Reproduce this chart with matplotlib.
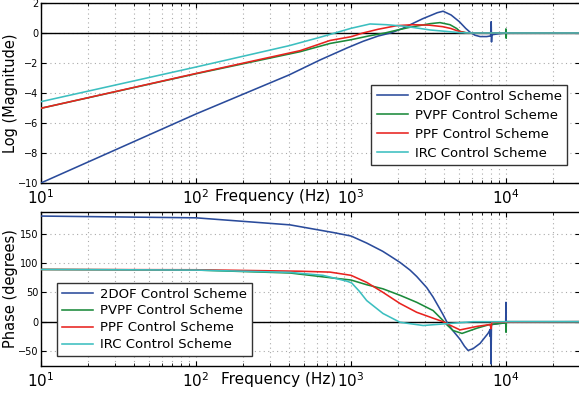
import matplotlib
matplotlib.use('Agg')
import matplotlib.pyplot as plt
from matplotlib.ticker import LogLocator, NullFormatter
import numpy as np

# ---- magnitude (natural log) ----
f_2dof_mag = [10, 100, 398, 631, 942, 1200, 1500, 1800, 2150, 2510, 2900, 3234, 3600, 3925, 4420,
              5000, 5500, 5860, 6300, 6800, 7500, 7950, 8020, 8060, 8100, 9000, 10000, 30000]
m_2dof = [-10, -5.4, -2.8, -1.8, -1.0, -0.55, -0.2, 0.0, 0.3, 0.64, 0.95, 1.15, 1.35, 1.45, 1.2,
          0.75, 0.3, 0.05, -0.15, -0.24, -0.24, -0.2, 0.75, -0.6, -0.12, -0.05, 0.0, 0.0]

f_pvpf_mag = [10, 100, 469, 732, 1000, 1300, 1657, 2000, 2400, 2790, 3234, 3750, 4353, 4800, 5050,
              5600, 9950, 9980, 10020, 10050, 30000]
m_pvpf = [-5.02, -2.72, -1.25, -0.7, -0.45, -0.2, 0.0, 0.2, 0.38, 0.5, 0.62, 0.69, 0.55, 0.3, 0.1,
          0.0, 0.0, 0.27, -0.35, 0.0, 0.0]

f_ppf_mag = [10, 100, 469, 732, 1000, 1195, 1500, 1980, 2500, 3200, 3900, 4400, 4830, 5440, 6000,
             30000]
m_ppf = [-5.02, -2.7, -1.18, -0.5, -0.25, 0.0, 0.25, 0.49, 0.55, 0.52, 0.42, 0.3, 0.15, 0.02, 0.0,
         0.0]

f_irc_mag = [10, 100, 398, 600, 789, 1000, 1326, 1700, 2200, 2790, 3234, 4161, 5050, 6000, 30000]
m_irc = [-4.58, -2.27, -0.85, -0.35, 0.0, 0.31, 0.6, 0.55, 0.45, 0.3, 0.2, 0.1, 0.02, 0.0, 0.0]

# ---- phase (degrees) ----
f_2dof_ph = [10, 100, 404, 766, 1000, 1262, 1600, 1786, 2070, 2400, 2654, 3080, 3383, 3700, 3925,
             4200, 4500, 5050, 5400, 5690, 6125, 6800, 7650, 7880, 7900, 7950, 8000, 8050, 9000,
             9950, 9990, 10010, 10050, 30000]
p_2dof = [180, 177, 165, 152, 146, 134, 120, 112, 101, 88, 77, 58, 42, 24, 12,
          -3, -14, -30, -42, -49, -46, -37, -20, -14, -25, -12, -72, -5, -3,
          -2, 33, -5, 0, 0]

f_pvpf_ph = [10, 100, 404, 732, 1000, 1262, 1607, 2070, 2654, 3383, 3925, 4142, 4550, 5200, 6500,
             7800, 9950, 10000, 10050, 30000]
p_pvpf = [89, 88, 83, 75, 71, 63, 56, 45, 33, 19, 2, -5, -15, -20, -11,
          -5, -2, -18, 0, 0]

f_ppf_ph = [10, 100, 469, 732, 1000, 1262, 1607, 2070, 2654, 3383, 3925, 4353, 5050, 6500, 7800,
            7900, 8000, 8100, 30000]
p_ppf = [89, 88.5, 86, 84.5, 79, 67, 50, 31, 16, 6, 0, -6, -14, -8, -5,
         -5, -12, -1, 0]

f_irc_ph = [10, 100, 404, 659, 942, 1010, 1130, 1262, 1607, 2070, 2918, 4353, 6125, 30000]
p_irc = [89, 88, 84, 79, 69, 66, 52, 36, 14, -1, -6.5, -3, 0, 0]

labels = ['2DOF Control Scheme', 'PVPF Control Scheme', 'PPF Control Scheme', 'IRC Control Scheme']
colors = ['#2a4b9b', '#1b8a3b', '#e8231f', '#3cbfc0']

plt.rcParams['font.family'] = ['DejaVu Sans']

fig = plt.figure(figsize=(5.79, 3.96), dpi=100)
ax1 = fig.add_axes([41/579, 0.538, 539/579, 0.4545])
ax2 = fig.add_axes([41/579, 0.0765, 539/579, 0.389])

mag = [(f_2dof_mag, m_2dof), (f_pvpf_mag, m_pvpf), (f_ppf_mag, m_ppf), (f_irc_mag, m_irc)]
ph = [(f_2dof_ph, p_2dof), (f_pvpf_ph, p_pvpf), (f_ppf_ph, p_ppf), (f_irc_ph, p_irc)]

for (f, m), c, l in zip(mag, colors, labels):
    ax1.plot(f, m, color=c, lw=1.15, label=l, zorder=3)
for (f, p), c, l in zip(ph, colors, labels):
    ax2.plot(f, p, color=c, lw=1.15, label=l, zorder=3)

for ax in (ax1, ax2):
    ax.set_xscale('log')
    ax.set_xlim(10, 3e4)
    ax.axhline(0, color='k', lw=1, zorder=2)
    ax.xaxis.set_minor_locator(LogLocator(base=10, subs=np.arange(2, 10)))
    ax.xaxis.set_minor_formatter(NullFormatter())
    ax.grid(True, which='both', axis='x', ls=(0, (1, 3)), color='#aaaaaa', lw=0.8)
    ax.grid(True, which='major', axis='y', ls=(0, (1, 3)), color='#aaaaaa', lw=0.8)
    ax.tick_params(which='both', direction='in', top=True, right=True)
    ax.tick_params(axis='y', labelsize=7, pad=2)
    ax.tick_params(axis='x', labelsize=11, pad=4)
    for s in ax.spines.values():
        s.set_linewidth(1.0)

ax1.set_ylim(-10, 2)
ax1.set_yticks([-10, -8, -6, -4, -2, 0, 2])
ax2.set_ylim(-75, 187.5)
ax2.set_yticks([-50, 0, 50, 100, 150])

ax1.set_ylabel('Log (Magnitude)', fontsize=10.5)
ax2.set_ylabel('Phase (degrees)', fontsize=10.5)
ax1.yaxis.set_label_coords(-0.043, 0.5)
ax2.yaxis.set_label_coords(-0.043, 0.5)

ax1.set_xlabel('Frequency (Hz)', fontsize=11)
ax1.xaxis.set_label_coords(0.43, -0.035)
ax2.set_xlabel('Frequency (Hz)', fontsize=11)
ax2.xaxis.set_label_coords(0.44, -0.04)

leg1 = ax1.legend(loc='lower right', bbox_to_anchor=(0.976, 0.1), borderaxespad=0,
                  fontsize=9.5, fancybox=False, framealpha=1, edgecolor='#333333',
                  handlelength=2.4, labelspacing=0.45, borderpad=0.4, handletextpad=0.5)
leg2 = ax2.legend(loc='lower left', bbox_to_anchor=(0.03, 0.063), borderaxespad=0,
                  fontsize=9.5, fancybox=False, framealpha=1, edgecolor='#333333',
                  handlelength=2.4, labelspacing=0.3, borderpad=0.35, handletextpad=0.5)

plt.savefig('out.png', dpi=100)
